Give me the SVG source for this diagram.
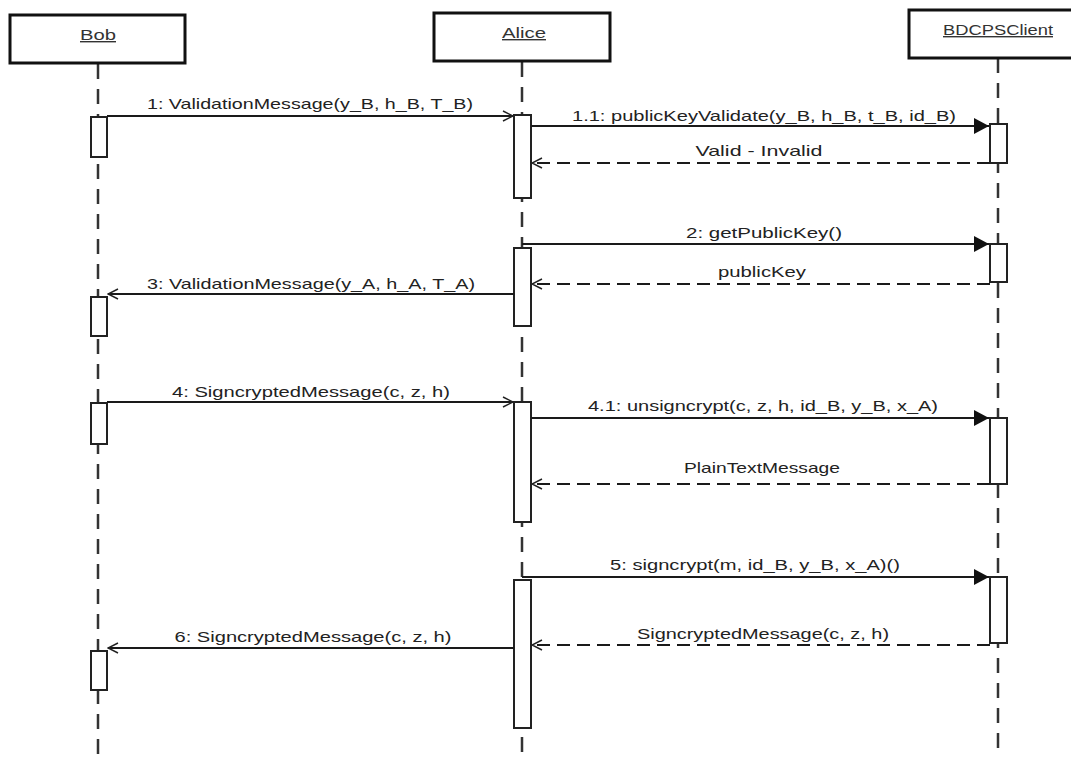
<svg xmlns="http://www.w3.org/2000/svg" width="1071" height="758" viewBox="0 0 1071 758">
<style>
.box{fill:#fff;stroke:#111;stroke-width:3}
.act{fill:#fff;stroke:#222;stroke-width:2}
.life{stroke:#333;stroke-width:2.5;stroke-dasharray:15 10;fill:none}
.msg{stroke:#1a1a1a;stroke-width:2;fill:none}
.ret{stroke:#1a1a1a;stroke-width:2;stroke-dasharray:13 7;fill:none}
.lbl{font-family:"Liberation Sans",Arial,sans-serif;font-size:15px;fill:#222;text-anchor:middle}
.name{font-family:"Liberation Sans",Arial,sans-serif;font-size:14px;fill:#333;text-anchor:middle;text-decoration:underline}
</style>
<defs>
<marker id="open" viewBox="0 0 12 12" refX="11" refY="6" markerWidth="12" markerHeight="12" markerUnits="userSpaceOnUse" orient="auto">
<path d="M1,1 L11,6 L1,11" fill="none" stroke="#222" stroke-width="1.5"/>
</marker>
<marker id="filled" viewBox="0 0 16 16" refX="15" refY="8" markerWidth="16" markerHeight="16" markerUnits="userSpaceOnUse" orient="auto">
<path d="M0,0 L15,8 L0,16 Z" fill="#111"/>
</marker>
</defs>
<rect width="1071" height="758" fill="#fff"/>
<g id="lifelines">
<line class="life" x1="98" y1="64" x2="98" y2="758"/>
<line class="life" x1="522" y1="62" x2="522" y2="758"/>
<line class="life" x1="998" y1="58" x2="998" y2="758"/>
</g>
<g id="bob">
<rect class="box" x="10" y="15" width="175" height="48"/>
<text class="name" x="98" y="40" textLength="36" lengthAdjust="spacingAndGlyphs">Bob</text>
</g>
<g id="alice">
<rect class="box" x="434" y="13" width="176" height="48"/>
<text class="name" x="524" y="38" textLength="44" lengthAdjust="spacingAndGlyphs">Alice</text>
</g>
<g id="bdcpsclient">
<rect class="box" x="909" y="10" width="180" height="48"/>
<text class="name" x="998" y="35" textLength="110" lengthAdjust="spacingAndGlyphs">BDCPSClient</text>
</g>
<g id="activations">
<rect class="act" x="91" y="117" width="16" height="40"/>
<rect class="act" x="91" y="297" width="16" height="39"/>
<rect class="act" x="91" y="403" width="16" height="41"/>
<rect class="act" x="91" y="651" width="16" height="39"/>
<rect class="act" x="514" y="115" width="17" height="83"/>
<rect class="act" x="514" y="248" width="17" height="78"/>
<rect class="act" x="514" y="402" width="17" height="120"/>
<rect class="act" x="514" y="580" width="17" height="148"/>
<rect class="act" x="990" y="124" width="17" height="39"/>
<rect class="act" x="990" y="244" width="17" height="38"/>
<rect class="act" x="990" y="418" width="17" height="66"/>
<rect class="act" x="990" y="577" width="17" height="66"/>
</g>
<g id="connectors">
<line class="msg" x1="107" y1="116" x2="513" y2="116" marker-end="url(#open)"/>
<line class="msg" x1="531" y1="126" x2="989" y2="126" marker-end="url(#filled)"/>
<line class="ret" x1="990" y1="163" x2="532" y2="163" marker-end="url(#open)"/>
<line class="msg" x1="522" y1="244" x2="989" y2="244" marker-end="url(#filled)"/>
<line class="ret" x1="990" y1="284" x2="532" y2="284" marker-end="url(#open)"/>
<line class="msg" x1="514" y1="294" x2="108" y2="294" marker-end="url(#open)"/>
<line class="msg" x1="107" y1="402" x2="513" y2="402" marker-end="url(#open)"/>
<line class="msg" x1="531" y1="418" x2="989" y2="418" marker-end="url(#filled)"/>
<line class="ret" x1="990" y1="484" x2="532" y2="484" marker-end="url(#open)"/>
<line class="msg" x1="522" y1="577" x2="989" y2="577" marker-end="url(#filled)"/>
<line class="ret" x1="990" y1="645" x2="532" y2="645" marker-end="url(#open)"/>
<line class="msg" x1="514" y1="648" x2="108" y2="648" marker-end="url(#open)"/>
</g>
<g id="labels">
<text class="lbl" x="310" y="109" textLength="326" lengthAdjust="spacingAndGlyphs">1: ValidationMessage(y_B, h_B, T_B)</text>
<text class="lbl" x="764" y="121" textLength="384" lengthAdjust="spacingAndGlyphs">1.1: publicKeyValidate(y_B, h_B, t_B, id_B)</text>
<text class="lbl" x="759" y="156" textLength="127" lengthAdjust="spacingAndGlyphs">Valid - Invalid</text>
<text class="lbl" x="764" y="238" textLength="156" lengthAdjust="spacingAndGlyphs">2: getPublicKey()</text>
<text class="lbl" x="762" y="277" textLength="88" lengthAdjust="spacingAndGlyphs">publicKey</text>
<text class="lbl" x="311" y="289" textLength="328" lengthAdjust="spacingAndGlyphs">3: ValidationMessage(y_A, h_A, T_A)</text>
<text class="lbl" x="311" y="397" textLength="278" lengthAdjust="spacingAndGlyphs">4: SigncryptedMessage(c, z, h)</text>
<text class="lbl" x="763" y="411" textLength="350" lengthAdjust="spacingAndGlyphs">4.1: unsigncrypt(c, z, h, id_B, y_B, x_A)</text>
<text class="lbl" x="762" y="473" textLength="156" lengthAdjust="spacingAndGlyphs">PlainTextMessage</text>
<text class="lbl" x="755" y="570" textLength="290" lengthAdjust="spacingAndGlyphs">5: signcrypt(m, id_B, y_B, x_A)()</text>
<text class="lbl" x="763" y="639" textLength="252" lengthAdjust="spacingAndGlyphs">SigncryptedMessage(c, z, h)</text>
<text class="lbl" x="313" y="642" textLength="277" lengthAdjust="spacingAndGlyphs">6: SigncryptedMessage(c, z, h)</text>
</g>
</svg>
